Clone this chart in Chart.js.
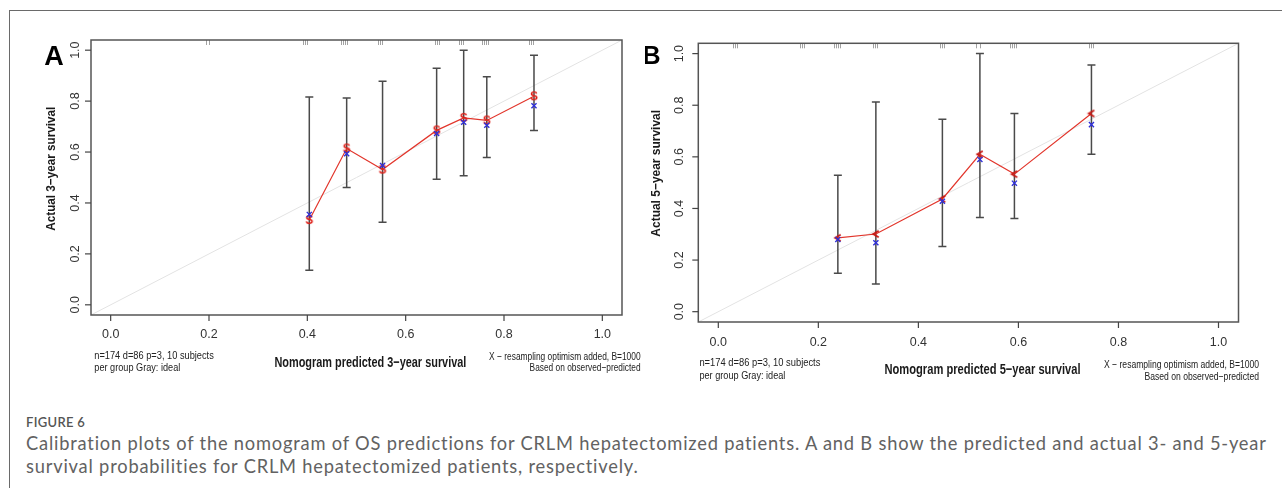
<!DOCTYPE html>
<html>
<head>
<meta charset="utf-8">
<script src="https://cdn.jsdelivr.net/npm/chart.js@4.4.1/dist/chart.umd.min.js"></script>
<style>
  html,body{margin:0;padding:0;background:#fff;}
  body{width:1282px;height:488px;position:relative;overflow:hidden;}
  #frame{position:absolute;left:9px;top:10px;width:1290px;height:500px;border-left:1.5px solid #6a6a6a;border-top:1.5px solid #6a6a6a;}
  canvas{position:absolute;top:0;}
  #fig{position:absolute;left:26px;top:416px;font:600 13px/13px Lato, "Open Sans", sans-serif;color:#555;letter-spacing:0.3px;}
  #cap{position:absolute;left:26px;top:432px;font:15.5px/23px Lato, "Open Sans", sans-serif;color:#626262;white-space:nowrap;letter-spacing:0.8px;}
</style>
</head>
<body>
<div id="frame"></div>
<canvas id="cA" width="645" height="400" style="left:0px"></canvas>
<canvas id="cB" width="637" height="400" style="left:645px"></canvas>
<div id="fig">FIGURE 6</div>
<div id="cap"><span id="l1">Calibration plots of the nomogram of OS predictions for CRLM hepatectomized patients. A and B show the predicted and actual 3- and 5-year</span><br><span id="l2">survival probabilities for CRLM hepatectomized patients, respectively.</span></div>
<script>
// ---------------- data ----------------
const xTicks = [0, 0.2, 0.4, 0.6, 0.8, 1.0];
const yTicks = [0, 0.2, 0.4, 0.6, 0.8, 1.0];
const tickLabels = ["0.0", "0.2", "0.4", "0.6", "0.8", "1.0"];

// Panel A: 3-year
const predA  = [0.404, 0.480, 0.553, 0.663, 0.718, 0.765, 0.861];
const obsA   = [0.333, 0.614, 0.531, 0.685, 0.734, 0.724, 0.819];
const corrA  = [0.355, 0.593, 0.547, 0.673, 0.717, 0.705, 0.782];
const upperA = [0.816, 0.812, 0.878, 0.929, 1.000, 0.896, 0.980];
const lowerA = [0.136, 0.461, 0.324, 0.493, 0.507, 0.579, 0.685];
const rugA   = [0.194, 0.199, 0.391, 0.395, 0.399, 0.469, 0.473, 0.477, 0.481,
                0.543, 0.547, 0.551, 0.659, 0.663, 0.667, 0.709, 0.713, 0.717,
                0.755, 0.759, 0.763, 0.767, 0.851, 0.855, 0.859];

// Panel B: 5-year
const predB  = [0.239, 0.315, 0.448, 0.523, 0.592, 0.746];
const obsB   = [0.286, 0.301, 0.437, 0.610, 0.533, 0.768];
const corrB  = [0.280, 0.267, 0.428, 0.590, 0.498, 0.725];
const upperB = [0.529, 0.813, 0.746, 1.000, 0.768, 0.956];
const lowerB = [0.149, 0.107, 0.253, 0.365, 0.361, 0.610];
const rugB   = [0.030, 0.034, 0.038, 0.163, 0.167, 0.171, 0.231, 0.235, 0.239, 0.243,
                0.309, 0.313, 0.317, 0.443, 0.447, 0.451, 0.516, 0.524,
                0.584, 0.588, 0.592, 0.596, 0.742, 0.746, 0.750];

const axisMin = -0.04, axisMax = 1.04;

// ---------------- helpers ----------------
const FONT = '"Liberation Sans", Arial, Helvetica, sans-serif';
function txt(ctx, s, x, y, o) {
  o = o || {};
  ctx.save();
  ctx.font = (o.weight || 'normal') + ' ' + (o.size || 12) + 'px ' + FONT;
  const m = ctx.measureText(s).width;
  const sx = o.w ? o.w / m : (o.sx || 1);
  ctx.translate(x, y);
  if (o.rot) ctx.rotate(o.rot);
  ctx.scale(sx, 1);
  ctx.textAlign = o.align || 'center';
  ctx.textBaseline = 'middle';
  ctx.fillStyle = o.color || '#222';
  ctx.fillText(s, 0, 0);
  ctx.restore();
}
function glyphS() {
  const c = document.createElement('canvas');
  c.width = 14; c.height = 16;
  const g = c.getContext('2d');
  g.font = 'bold 12px ' + FONT;
  g.fillStyle = '#df1f17';
  g.textAlign = 'center';
  g.textBaseline = 'middle';
  g.fillText('S', 7, 8.5);
  return c;
}
function glyphLt() {
  const c = document.createElement('canvas');
  c.width = 10; c.height = 10;
  const g = c.getContext('2d');
  g.strokeStyle = '#c81a15';
  g.lineWidth = 1.9;
  g.beginPath();
  g.moveTo(7.8, 1.8); g.lineTo(2.4, 5); g.lineTo(7.8, 8.2);
  g.stroke();
  return c;
}

const rPlot = {
  id: 'rPlot',
  afterDatasetDraw(chart, args, o) {
    if (args.index !== 0) return;
    const ctx = chart.ctx, xs = chart.scales.x, ys = chart.scales.y;
    ctx.save();
    ctx.strokeStyle = '#4a4a4a';
    ctx.lineWidth = 1.5;
    o.xs.forEach((v, i) => {
      const px = xs.getPixelForValue(v);
      const t = ys.getPixelForValue(o.hi[i]);
      const b = ys.getPixelForValue(o.lo[i]);
      ctx.beginPath();
      ctx.moveTo(px, t); ctx.lineTo(px, b);
      ctx.moveTo(px - 4, t); ctx.lineTo(px + 4, t);
      ctx.moveTo(px - 4, b); ctx.lineTo(px + 4, b);
      ctx.stroke();
    });
    ctx.restore();
  },
  afterDraw(chart, args, o) {
    const ctx = chart.ctx, a = chart.chartArea, xs = chart.scales.x, ys = chart.scales.y;
    const off = o.off;
    ctx.save();
    // rug
    ctx.strokeStyle = 'rgba(100,100,100,0.6)';
    ctx.lineWidth = 1;
    o.rug.forEach(v => {
      const px = Math.round(xs.getPixelForValue(v)) + 0.5;
      ctx.beginPath(); ctx.moveTo(px, a.top); ctx.lineTo(px, a.top + 5); ctx.stroke();
    });
    // box
    ctx.strokeStyle = '#555';
    ctx.lineWidth = 1.5;
    ctx.strokeRect(a.left, a.top, a.right - a.left, a.bottom - a.top);
    // ticks
    ctx.strokeStyle = '#444';
    ctx.lineWidth = 1.2;
    xTicks.forEach((v, i) => {
      const px = xs.getPixelForValue(v);
      ctx.beginPath(); ctx.moveTo(px, a.bottom); ctx.lineTo(px, a.bottom + 6); ctx.stroke();
      txt(ctx, tickLabels[i], px, o.xTickY, {size: 12.5, color: '#333'});
    });
    yTicks.forEach((v, i) => {
      const py = ys.getPixelForValue(v);
      ctx.beginPath(); ctx.moveTo(a.left - 6, py); ctx.lineTo(a.left, py); ctx.stroke();
      txt(ctx, tickLabels[i], o.yTickX - off, py, {size: 12.5, color: '#333', rot: -Math.PI / 2});
    });
    // letter
    txt(ctx, o.letter.t, o.letter.x - off, o.letter.y, {size: o.letter.size, weight: 'bold', color: '#000'});
    // axis titles
    txt(ctx, o.ytitle.t, o.ytitle.x - off, o.ytitle.y, {size: 13, weight: 'bold', color: '#1a1a1a', rot: -Math.PI / 2, w: o.ytitle.w});
    txt(ctx, o.xtitle.t, o.xtitle.x - off, o.xtitle.y, {size: 15, weight: 'bold', color: '#1a1a1a', w: o.xtitle.w});
    // notes
    o.notes.forEach(n => txt(ctx, n.t, n.x - off, n.y, {size: 11.5, color: '#222', align: n.align, w: n.w}));
    ctx.restore();
  }
};

function makeChart(id, pad, pred, obs, corr, lo, hi, rug, marker, cfg) {
  return new Chart(document.getElementById(id), {
    type: 'scatter',
    data: {
      datasets: [
        {data: [{x: axisMin, y: axisMin}, {x: axisMax, y: axisMax}], showLine: true,
         borderColor: '#e3e3e3', borderWidth: 1, pointRadius: 0, order: 3},
        {data: pred.map((x, i) => ({x: x, y: obs[i]})), showLine: true,
         borderColor: '#e2352b', borderWidth: 1.2, pointStyle: marker, pointRadius: 5, order: 2},
        {data: pred.map((x, i) => ({x: x, y: corr[i]})), showLine: false,
         pointStyle: 'crossRot', pointRadius: 3.6, borderColor: '#3030d8', borderWidth: 1.4,
         backgroundColor: '#3030d8', order: 1}
      ]
    },
    options: {
      responsive: false, animation: false, events: [],
      layout: {padding: pad},
      scales: {
        x: {type: 'linear', min: axisMin, max: axisMax, display: false},
        y: {type: 'linear', min: axisMin, max: axisMax, display: false}
      },
      plugins: {
        legend: {display: false}, tooltip: {enabled: false},
        rPlot: Object.assign({xs: pred, lo: lo, hi: hi, rug: rug}, cfg)
      }
    },
    plugins: [rPlot]
  });
}

const sMark = glyphS();
const cMark = glyphLt();

makeChart('cA', {left: 91, top: 40, right: 23, bottom: 85}, predA, obsA, corrA, lowerA, upperA, rugA, sMark, {
  off: 0, xTickY: 334.3, yTickX: 75.5,
  letter: {t: 'A', x: 54, y: 58, size: 27},
  ytitle: {t: 'Actual 3\u2212year survival', x: 51, y: 168.7, w: 124},
  xtitle: {t: 'Nomogram predicted 3\u2212year survival', x: 370.4, y: 362.7, w: 192},
  notes: [
    {t: 'n=174 d=86 p=3, 10 subjects', x: 94.3, y: 356.3, w: 119.5, align: 'left'},
    {t: 'per group Gray: ideal', x: 94.3, y: 367.7, w: 86, align: 'left'},
    {t: 'X \u2212 resampling optimism added, B=1000', x: 640.6, y: 357.3, w: 151.5, align: 'right'},
    {t: 'Based on observed\u2212predicted', x: 640.6, y: 368.3, w: 111, align: 'right'}
  ]
});

makeChart('cB', {left: 53.3, top: 43.3, right: 43.5, bottom: 78}, predB, obsB, corrB, lowerB, upperB, rugB, cMark, {
  off: 645, xTickY: 342.3, yTickX: 680,
  letter: {t: 'B', x: 651.5, y: 57, size: 25},
  ytitle: {t: 'Actual 5\u2212year survival', x: 656.5, y: 173.3, w: 126.7},
  xtitle: {t: 'Nomogram predicted 5\u2212year survival', x: 982.5, y: 370, w: 196},
  notes: [
    {t: 'n=174 d=86 p=3, 10 subjects', x: 699.4, y: 363, w: 121, align: 'left'},
    {t: 'per group Gray: ideal', x: 699.4, y: 375.7, w: 86, align: 'left'},
    {t: 'X \u2212 resampling optimism added, B=1000', x: 1259, y: 365, w: 155, align: 'right'},
    {t: 'Based on observed\u2212predicted', x: 1259, y: 376.5, w: 114.5, align: 'right'}
  ]
});

// caption width fitting: scale font size so line 1 spans the reference width (26 -> 1268)
(function () {
  const cap = document.getElementById('cap');
  const l1 = document.getElementById('l1');
  const w = l1.getBoundingClientRect().width;
  const n = l1.textContent.length;
  // keep letter spacing, adjust font size on the glyph part
  const glyphW = w - 0.8 * n;
  const fs = 15.5 * (1242 - 0.8 * n) / glyphW;
  cap.style.fontSize = fs.toFixed(2) + 'px';
})();
</script>
</body>
</html>
